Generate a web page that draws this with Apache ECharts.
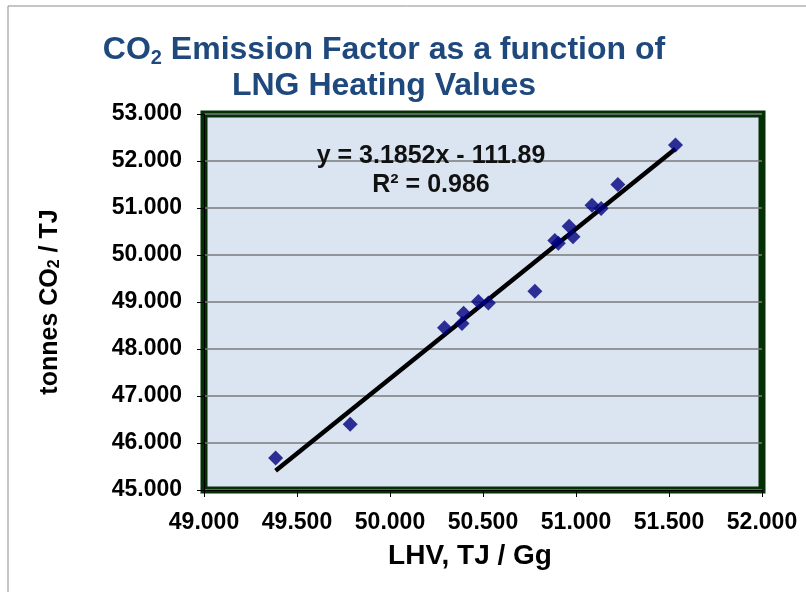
<!DOCTYPE html>
<html>
<head>
<meta charset="utf-8">
<script src="https://cdn.jsdelivr.net/npm/echarts@6/dist/echarts.min.js"></script>
<style>
  html, body { margin: 0; padding: 0; background: #fff; }
  #chart { width: 806px; height: 592px; }
</style>
</head>
<body>
<div id="chart"></div>
<script>
// LHV (TJ/Gg) vs emission factor (t CO2/TJ)
var lhv = [49.385, 49.786, 50.293, 50.387, 50.396, 50.475, 50.529, 50.779,
           50.886, 50.905, 50.963, 50.984, 51.086, 51.135, 51.225, 51.535];
var ef  = [45.68, 46.40, 48.45, 48.54, 48.76, 49.01, 48.98, 49.23,
           50.31, 50.25, 50.61, 50.39, 51.06, 50.99, 51.50, 52.34];

// trend line as printed on the chart
var slope = 3.1852;
var intercept = -111.89;
var eqLines = ['y = 3.1852x - 111.89', 'R² = 0.986'];

var xTicks = [49, 52, 0.5];   // min, max, interval
var yTicks = [45, 53, 1];

var font = "'Liberation Sans', Arial, sans-serif";

var points = lhv.map(function (x, i) { return [x, ef[i]]; });
var xMin = Math.min.apply(null, lhv), xMax = Math.max.apply(null, lhv);
var trend = [[xMin, slope * xMin + intercept], [xMax, slope * xMax + intercept]];

var chart = echarts.init(document.getElementById('chart'));
chart.setOption({
    backgroundColor: '#fff',
    animation: false,
    grid: {
        left: 204, right: 44, top: 114, bottom: 102,
        show: true,
        backgroundColor: '#dbe5f1',
        borderColor: '#053005',
        borderWidth: 7
    },
    xAxis: {
        type: 'value',
        min: xTicks[0], max: xTicks[1], interval: xTicks[2],
        name: 'LHV, TJ / Gg',
        nameLocation: 'middle',
        nameGap: 52,
        nameTextStyle: { fontFamily: font, fontWeight: 'bold', fontSize: 28, color: '#000', padding: [0, 26, 0, 0] },
        axisLine: { show: true, lineStyle: { color: '#000', width: 1 } },
        axisTick: { show: true, length: 7, lineStyle: { color: '#000' } },
        axisLabel: {
            margin: 21, fontFamily: font, fontWeight: 'bold', fontSize: 23, color: '#000',
            formatter: function (v) { return v.toFixed(3); }
        },
        splitLine: { show: false }
    },
    yAxis: {
        type: 'value',
        min: yTicks[0], max: yTicks[1], interval: yTicks[2],
        name: '{a|tonnes CO}{s|2}{a| / TJ}',
        nameLocation: 'middle',
        nameGap: 141,
        nameRotate: 90,
        nameTextStyle: {
            rich: {
                a: { fontFamily: font, fontWeight: 'bold', fontSize: 25, color: '#000' },
                s: { fontFamily: font, fontWeight: 'bold', fontSize: 16, color: '#000', verticalAlign: 'bottom', padding: [10, 0, 0, 0] }
            }
        },
        axisLine: { show: true, lineStyle: { color: '#000', width: 1 } },
        axisTick: { show: true, length: 7, lineStyle: { color: '#000' } },
        axisLabel: {
            margin: 22, fontFamily: font, fontWeight: 'bold', fontSize: 23, color: '#000',
            formatter: function (v) { return v.toFixed(3); }
        },
        splitLine: { show: true, lineStyle: { color: '#7a7a7a', width: 1.5 } }
    },
    series: [
        {
            type: 'line',
            data: trend,
            symbol: 'none',
            lineStyle: { color: '#000', width: 4.5 },
            z: 2
        },
        {
            type: 'scatter',
            data: points,
            symbol: 'diamond',
            symbolSize: 15,
            itemStyle: { color: '#000080' },
            z: 3
        }
    ],
    graphic: [
        {
            type: 'rect',
            shape: { x: 8, y: 6, width: 900, height: 700 },
            style: { fill: 'none', stroke: '#8c8c8c', lineWidth: 1 },
            silent: true
        },
        {
            type: 'text',
            x: 384, y: 32,
            style: {
                text: '{a|CO}{s|2}{a| Emission Factor as a function of}\n{a|LNG Heating Values}',
                align: 'center',
                verticalAlign: 'top',
                rich: {
                    a: { fontFamily: font, fontWeight: 'bold', fontSize: 32, fill: '#1f497d', lineHeight: 36 },
                    s: { fontFamily: font, fontWeight: 'bold', fontSize: 20, fill: '#1f497d', lineHeight: 36, verticalAlign: 'bottom', padding: [14, 0, 0, 0] }
                }
            }
        },
        {
            type: 'text',
            x: 431, y: 142,
            z: 10,
            style: {
                text: eqLines.join('\n'),
                align: 'center',
                verticalAlign: 'top',
                fontFamily: font, fontWeight: 'bold', fontSize: 25, fill: '#111',
                lineHeight: 29
            }
        }
    ]
});
</script>
</body>
</html>
